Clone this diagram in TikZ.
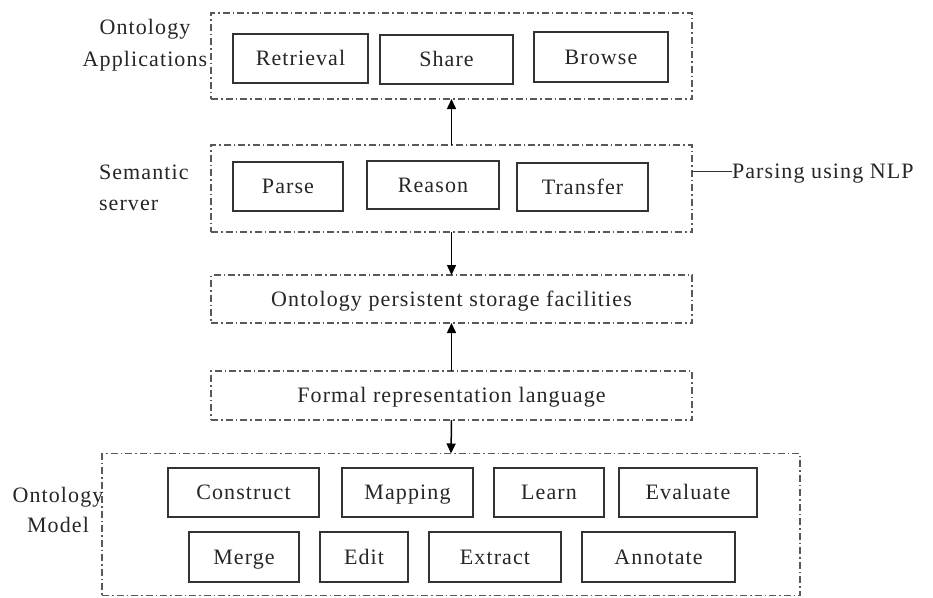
\documentclass[tikz,border=0pt]{standalone}
\usepackage{fontspec}
\setmainfont[LetterSpace=5]{Liberation Serif}
\usetikzlibrary{arrows.meta}
\begin{document}
\begin{tikzpicture}[x=1pt,y=-1pt,
  every node/.style={font=\fontsize{22}{31}\selectfont, text=black!85, inner sep=0pt, outer sep=0pt},
  grp/.style={draw=black!65, line width=1.1pt, dash pattern=on 7pt off 3pt on 1.5pt off 3pt, rectangle},
  capc/.style={text height=14.6pt, text depth=0pt},
  box/.style={draw=black!80, line width=1.6pt, rectangle, capc},
  arr/.style={line width=1.5pt, draw=black, -{Triangle[length=10pt,width=9pt]}},
  lbl/.style={anchor=base}
]
\useasboundingbox[fill=white] (0,0) rectangle (933,597);

% group boxes
\node[grp, minimum width=481, minimum height=86] (apps) at (451.5,56) {};
\node[grp, minimum width=481, minimum height=87] (sem) at (451.5,188.5) {};
\node[grp, capc, minimum width=481, minimum height=48] (store) at (451.5,299) {Ontology persistent storage facilities};
\node[grp, capc, minimum width=481, minimum height=49] (formal) at (451.5,395.5) {Formal representation language};
\node[grp, minimum width=698, minimum height=142] (model) at (451,524.5) {};

% application boxes
\node[box, minimum width=135, minimum height=49] (retrieval) at (300.5,58.5) {Retrieval};
\node[box, minimum width=133, minimum height=49] (share) at (446.5,59.5) {Share};
\node[box, minimum width=134, minimum height=50] (browse) at (601,57) {Browse};

% semantic server boxes
\node[box, minimum width=110, minimum height=49] (parse) at (288,186.5) {Parse};
\node[box, minimum width=132, minimum height=48] (reason) at (433,185) {Reason};
\node[box, minimum width=131, minimum height=48] (transfer) at (582.5,187) {Transfer};

% model boxes
\node[box, minimum width=151, minimum height=49] (construct) at (243.5,492.5) {Construct};
\node[box, minimum width=131, minimum height=49] (mapping) at (407.5,492.5) {Mapping};
\node[box, minimum width=110, minimum height=49] (learn) at (549,492.5) {Learn};
\node[box, minimum width=138, minimum height=49] (evaluate) at (688,492.5) {Evaluate};
\node[box, minimum width=110, minimum height=50] (merge) at (244,557) {Merge};
\node[box, minimum width=88, minimum height=50] (edit) at (364,557) {Edit};
\node[box, minimum width=132, minimum height=50] (extract) at (495,557) {Extract};
\node[box, minimum width=153, minimum height=50] (annotate) at (658.5,557) {Annotate};

% side labels
\node[lbl] (appsA) at (145,34) {Ontology};
\node[lbl] (appsB) at (145,66) {Applications};
\node[lbl, anchor=base west] (semA) at (99,179) {Semantic};
\node[lbl, anchor=base west] (semB) at (99,210) {server};
\node[lbl] (modA) at (58,502) {Ontology};
\node[lbl] (modB) at (58,532) {Model};

% NLP note
\node[anchor=west, capc] (nlp) at (732,171) {Parsing using NLP};
\draw[line width=1pt, black!80] (nlp.west) -- (nlp.west -| sem.east);

% arrows
\draw[arr] (sem.north) -- (apps.south);
\draw[arr] (sem.south) -- (store.north);
\draw[arr] (formal.north) -- (store.south);
\draw[arr] (formal.south) -- (model.north);
\end{tikzpicture}
\end{document}
